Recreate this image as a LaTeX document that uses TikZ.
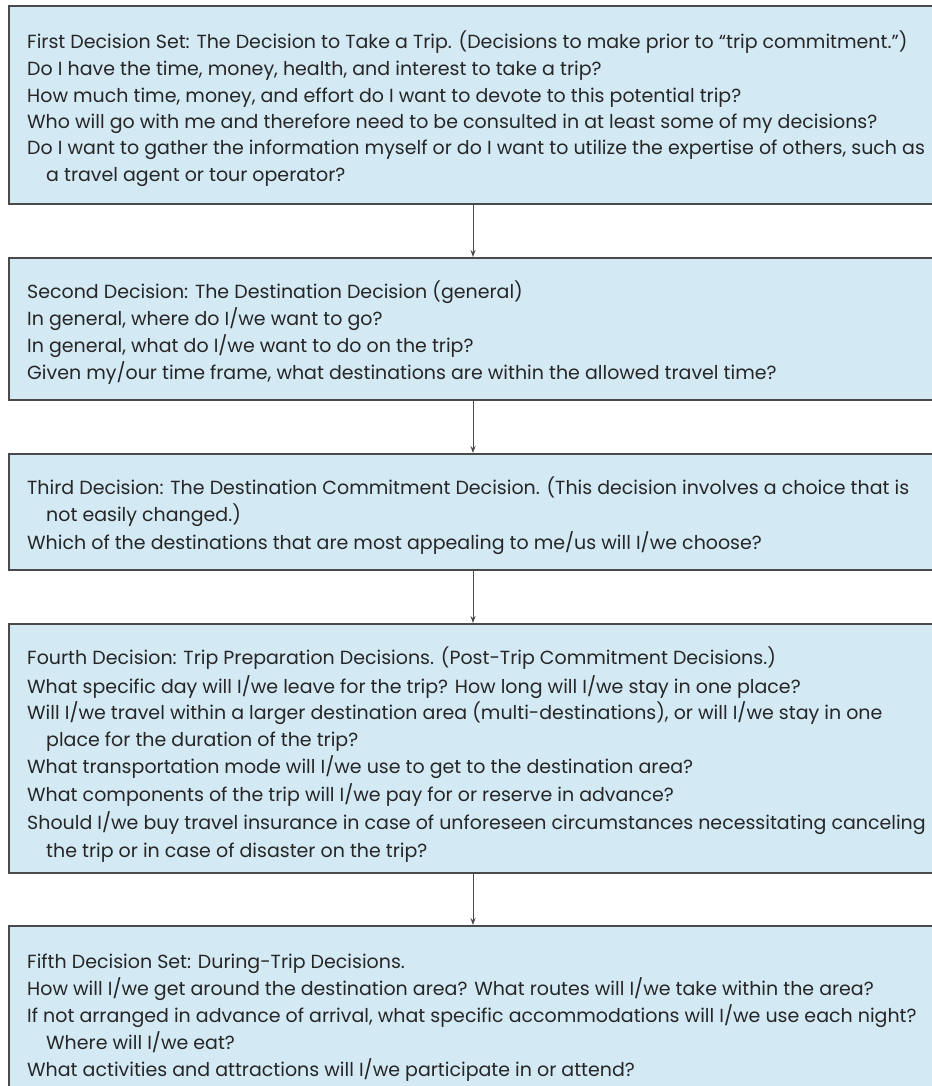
\documentclass[tikz,border=0pt]{standalone}
\usepackage{fontspec}
\setmainfont{Poppins}
\usetikzlibrary{arrows.meta,calc}
\definecolor{boxfill}{HTML}{D3E9F4}
\definecolor{boxline}{HTML}{4A4A4A}
\definecolor{textgray}{HTML}{262626}
\tikzset{
  panel/.style={draw=boxline, line width=1.6pt, fill=boxfill, anchor=north west,
    inner sep=0pt, minimum width=950pt},
  qline/.style={anchor=base west, inner sep=0pt, text=textgray,
    font=\fontsize{19}{27}\selectfont},
  flow/.style={draw=boxline, line width=0.9pt, -{Stealth[length=7pt,width=5pt]}}
}
\begin{document}
\begin{tikzpicture}[x=1pt,y=-1pt]
\useasboundingbox[fill=white] (0,0) rectangle (931,1086);

% the five decision panels
\node[panel, minimum height=198pt] (p1) at (8,5) {};
\node[panel, minimum height=142pt] (p2) at (8,257) {};
\node[panel, minimum height=116pt] (p3) at (8,453) {};
\node[panel, minimum height=249pt] (p4) at (8,623) {};
\node[panel, minimum height=200pt] (p5) at (8,925) {};

% first decision set
\node[qline] (t1a) at (27,49) {First Decision Set: The Decision to Take a Trip. (Decisions to make prior to “trip commitment.”)};
\node[qline] (t1b) at (27,76) {Do I have the time, money, health, and interest to take a trip?};
\node[qline] (t1c) at (27,103) {How much time, money, and effort do I want to devote to this potential trip?};
\node[qline] (t1d) at (27,129) {Who will go with me and therefore need to be consulted in at least some of my decisions?};
\node[qline] (t1e) at (27,155) {Do I want to gather the information myself or do I want to utilize the expertise of others, such as};
\node[qline] (t1f) at (46,182) {a travel agent or tour operator?};

% second decision
\node[qline] (t2a) at (27,298) {Second Decision: The Destination Decision (general)};
\node[qline] (t2b) at (27,325) {In general, where do I/we want to go?};
\node[qline] (t2c) at (27,352) {In general, what do I/we want to do on the trip?};
\node[qline] (t2d) at (27,379) {Given my/our time frame, what destinations are within the allowed travel time?};

% third decision
\node[qline] (t3a) at (27,494) {Third Decision: The Destination Commitment Decision. (This decision involves a choice that is};
\node[qline] (t3b) at (46,521) {not easily changed.)};
\node[qline] (t3c) at (27,549) {Which of the destinations that are most appealing to me/us will I/we choose?};

% fourth decision
\node[qline] (t4a) at (27,664) {Fourth Decision: Trip Preparation Decisions. (Post-Trip Commitment Decisions.)};
\node[qline] (t4b) at (27,693) {What specific day will I/we leave for the trip? How long will I/we stay in one place?};
\node[qline] (t4c) at (27,719) {Will I/we travel within a larger destination area (multi-destinations), or will I/we stay in one};
\node[qline] (t4d) at (46,746) {place for the duration of the trip?};
\node[qline] (t4e) at (27,773) {What transportation mode will I/we use to get to the destination area?};
\node[qline] (t4f) at (27,801) {What components of the trip will I/we pay for or reserve in advance?};
\node[qline] (t4g) at (27,829) {Should I/we buy travel insurance in case of unforeseen circumstances necessitating canceling};
\node[qline] (t4h) at (46,857) {the trip or in case of disaster on the trip?};

% fifth decision set
\node[qline] (t5a) at (27,968) {Fifth Decision Set: During-Trip Decisions.};
\node[qline] (t5b) at (27,995) {How will I/we get around the destination area? What routes will I/we take within the area?};
\node[qline] (t5c) at (27,1022) {If not arranged in advance of arrival, what specific accommodations will I/we use each night?};
\node[qline] (t5d) at (46,1049) {Where will I/we eat?};
\node[qline] (t5e) at (27,1076) {What activities and attractions will I/we participate in or attend?};

% connectors between panels
\foreach \a/\b in {p1/p2,p2/p3,p3/p4,p4/p5}
  \draw[flow] ($(\a.south west)+(465,0)$) -- ($(\b.north west)+(465,0)$);
\end{tikzpicture}
\end{document}
